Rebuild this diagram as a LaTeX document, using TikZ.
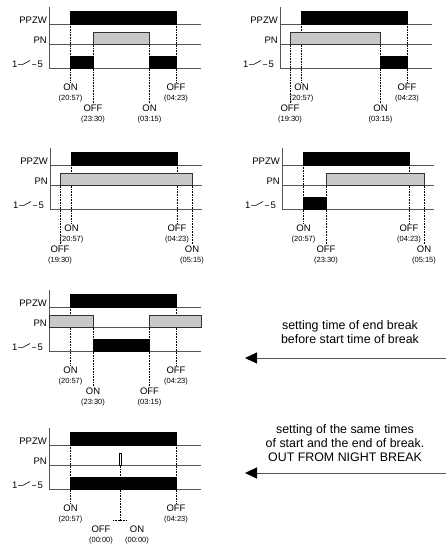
\documentclass[tikz,border=0pt]{standalone}
\usepackage{fontspec}
\setmainfont{Liberation Sans}
\usetikzlibrary{arrows.meta,positioning}

\definecolor{pngray}{RGB}{200,200,200}
\definecolor{linegray}{RGB}{85,85,85}

\tikzset{
  chan/.style={font=\fontsize{9.5}{11}\selectfont, inner sep=0pt},
  word/.style={font=\fontsize{9.5}{11}\selectfont, inner sep=2pt, anchor=base},
  clock/.style={font=\fontsize{7.5}{9}\selectfont, inner sep=0pt, anchor=base},
  base/.style={draw=linegray, line width=0.8pt},
  guide/.style={densely dotted, line width=0.6pt},
  swline/.style={line width=0.6pt},
  onbar/.style={draw=black, fill=black},
  pnbar/.style={draw=black!80, fill=pngray, line width=0.6pt},
  note/.style={font=\fontsize{12.4}{14}\selectfont, align=center},
  pointer/.style={draw=linegray, line width=1pt, -{Triangle[length=12pt,width=11pt,color=black]}}
}

\newcommand\rowup{66.5}
\newcommand\rowlo{87.5}

% axis, base lines and channel names of one chart
\newcommand\panelframe[1]{%
  \draw[base] (0,0) -- (152,0) (0,20.5) -- (152,20.5) (0,44.5) -- (152,44.5);
  \draw[base] (0,-17) -- (0,44.5);
  \node[chan, anchor=base east] (#1ppzw) at (-2,-1) {PPZW};
  \node[chan, anchor=base east] (#1pn) at (-2,19.5) {PN};
  \node[chan, anchor=base east] (#1five) at (-6,43.5) {5};
  \node[chan, anchor=base west] (#1one) at (-37,43.5) {1};
  \draw[swline] (-31,40.3) -- (-26,40.3) -- (-19,36.5) (-17,40.3) -- (-13,40.3);
}

% one switching time: name, x, start of guide, row, word, time
\newcommand\evt[6]{%
  \node[word] (#1) at (#2,#4) {#5};
  \node[clock] (#1t) at (#2,#4+9.5) {(#6)};
  \path[guide] (#2,#3) edge (#1.north);
}

\begin{document}
\begin{tikzpicture}[x=1pt, y=-1pt]
  \useasboundingbox (0,0) rectangle (446,544);

  % chart 1
  \begin{scope}[shift={(49,24)}]
    \evt{p1a}{21.5}{0}{\rowup}{ON}{20:57}
    \evt{p1b}{44}{8}{\rowlo}{OFF}{23:30}
    \evt{p1c}{100.5}{8}{\rowlo}{ON}{03:15}
    \evt{p1d}{127}{0}{\rowup}{OFF}{04:23}
    \panelframe{p1}
    \draw[onbar] (21.5,-12.5) rectangle (127,0);
    \draw[pnbar] (44,8) rectangle (100.5,20.5);
    \draw[onbar] (21.5,32) rectangle (44,44.5);
    \draw[onbar] (100.5,32) rectangle (127,44.5);
  \end{scope}

  % chart 2
  \begin{scope}[shift={(280,24)}]
    \evt{p2a}{10}{8}{\rowlo}{OFF}{19:30}
    \evt{p2b}{21.5}{0}{\rowup}{ON}{20:57}
    \evt{p2c}{100.5}{8}{\rowlo}{ON}{03:15}
    \evt{p2d}{127}{0}{\rowup}{OFF}{04:23}
    \panelframe{p2}
    \draw[onbar] (21.5,-12.5) rectangle (127,0);
    \draw[pnbar] (10,8) rectangle (100.5,20.5);
    \draw[onbar] (100.5,32) rectangle (127,44.5);
  \end{scope}

  % chart 3
  \begin{scope}[shift={(50,165)}]
    \evt{p3a}{10}{8}{\rowlo}{OFF}{19:30}
    \evt{p3b}{21.5}{0}{\rowup}{ON}{20:57}
    \evt{p3c}{127}{0}{\rowup}{OFF}{04:23}
    \evt{p3d}{142}{8}{\rowlo}{ON}{05:15}
    \panelframe{p3}
    \draw[onbar] (21.5,-12.5) rectangle (127,0);
    \draw[pnbar] (10,8) rectangle (142,20.5);
  \end{scope}

  % chart 4
  \begin{scope}[shift={(282,165)}]
    \evt{p4a}{21.5}{0}{\rowup}{ON}{20:57}
    \evt{p4b}{44}{8}{\rowlo}{OFF}{23:30}
    \evt{p4c}{127}{0}{\rowup}{OFF}{04:23}
    \evt{p4d}{142}{8}{\rowlo}{ON}{05:15}
    \panelframe{p4}
    \draw[onbar] (21.5,-12.5) rectangle (127,0);
    \draw[pnbar] (44,8) rectangle (142,20.5);
    \draw[onbar] (21.5,32) rectangle (44,44.5);
  \end{scope}

  % chart 5
  \begin{scope}[shift={(49,307)}]
    \evt{p5a}{21.5}{0}{\rowup}{ON}{20:57}
    \evt{p5b}{44}{20.5}{\rowlo}{ON}{23:30}
    \evt{p5c}{100.5}{20.5}{\rowlo}{OFF}{03:15}
    \evt{p5d}{127}{0}{\rowup}{OFF}{04:23}
    \panelframe{p5}
    \draw[onbar] (21.5,-12.5) rectangle (127,0);
    \draw[pnbar] (0,8) rectangle (44,20.5);
    \draw[pnbar] (100.5,8) rectangle (152,20.5);
    \draw[onbar] (44,32) rectangle (100.5,44.5);
  \end{scope}

  % chart 6
  \begin{scope}[shift={(49,445)}]
    \evt{p6a}{21.5}{0}{\rowup}{ON}{20:57}
    \evt{p6b}{127}{0}{\rowup}{OFF}{04:23}
    \node[word] (p6c) at (52,\rowlo) {OFF};
    \node[clock] (p6ct) at (52,\rowlo+9.5) {(00:00)};
    \node[word] (p6d) at (88,\rowlo) {ON};
    \node[clock] (p6dt) at (88,\rowlo+9.5) {(00:00)};
    \coordinate (p6m) at (71,75.5);
    \coordinate (p6l) at (64,75.5);
    \coordinate (p6r) at (77,75.5);
    \draw[guide] (71,8) -- (p6m);
    \draw[guide] (p6l) -- (p6r);
    \panelframe{p6}
    \draw[onbar] (21.5,-12.5) rectangle (127,0);
    \draw[draw=black, fill=white, line width=0.6pt] (70,8) rectangle (72.5,20.5);
    \draw[onbar] (21.5,32) rectangle (127,44.5);
  \end{scope}

  % remarks
  \node[note] (note1) at (350,332.5) {setting time of end break\\before start time of break};
  \coordinate (a1from) at (446,358);
  \coordinate (a1to) at (245,358);
  \draw[pointer] (a1from) -- (a1to);

  \node[note] (note2) at (345,443) {setting of the same times\\ of start and the end of break.\\OUT FROM NIGHT BREAK};
  \coordinate (a2from) at (446,473);
  \coordinate (a2to) at (245,473);
  \draw[pointer] (a2from) -- (a2to);
\end{tikzpicture}
\end{document}
